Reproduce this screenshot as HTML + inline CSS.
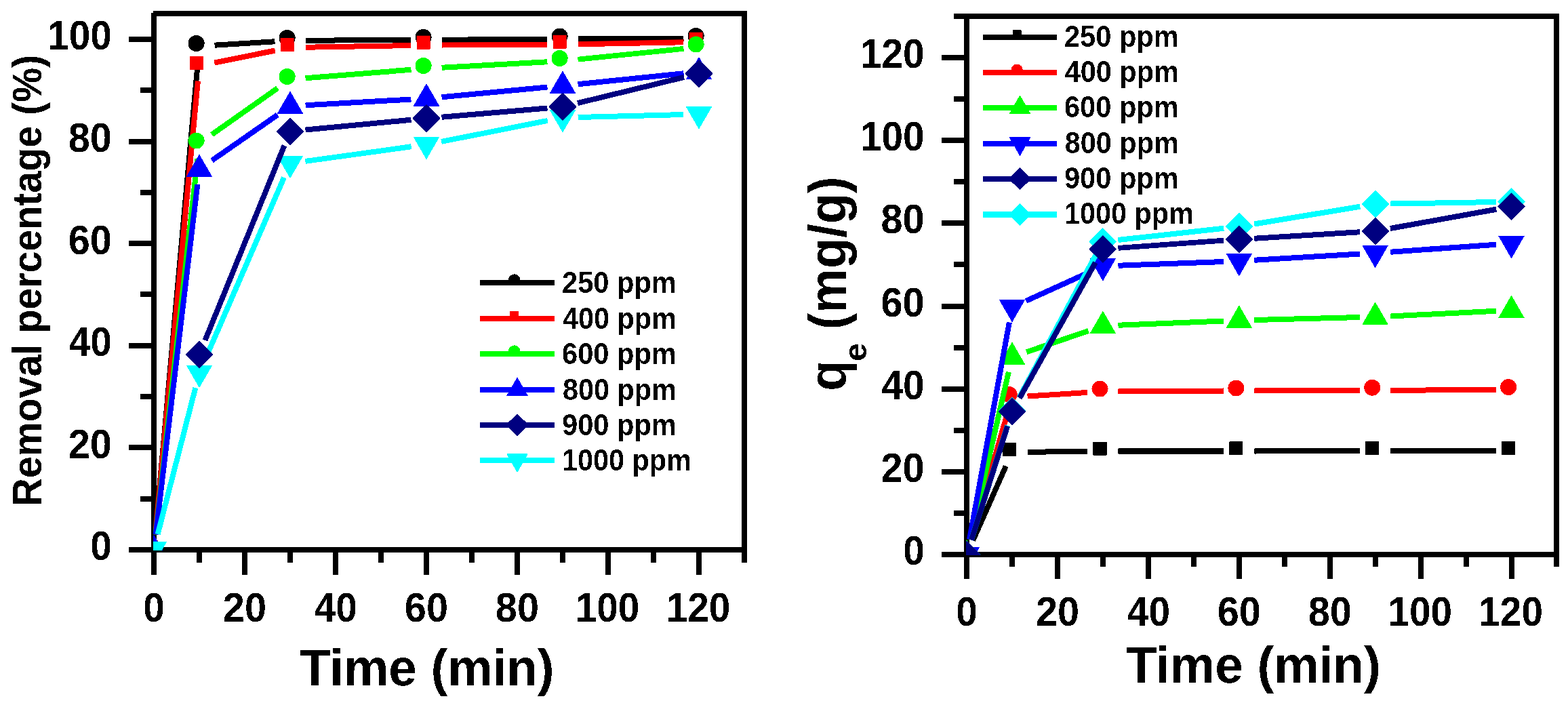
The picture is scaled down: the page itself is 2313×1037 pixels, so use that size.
<!DOCTYPE html><html><head><meta charset="utf-8"><title>Adsorption kinetics</title><style>html,body{margin:0;padding:0;background:#fff;overflow:hidden}svg{display:block}</style></head><body><svg width="2313" height="1037" viewBox="0 0 2313 1037" style="font-family:'Liberation Sans',sans-serif;font-weight:bold"><defs><clipPath id="clipL"><rect x="226" y="20" width="872" height="792"/></clipPath><clipPath id="clipR"><rect x="1425" y="24" width="872" height="795"/></clipPath><filter id="bin" x="0" y="0" width="2313" height="1037" filterUnits="userSpaceOnUse"><feComponentTransfer><feFuncA type="discrete" tableValues="0 1"/></feComponentTransfer></filter></defs><rect width="2313" height="1037" fill="#ffffff"/><g filter="url(#bin)"><rect x="223" y="19" width="8" height="796" fill="#000000"/><rect x="226" y="16" width="876" height="8" fill="#000000"/><rect x="1094" y="19" width="8" height="796" fill="#000000"/><rect x="190" y="807" width="912" height="8" fill="#000000"/><rect x="190" y="807" width="33" height="8" fill="#000000"/><rect x="207" y="732" width="16" height="8" fill="#000000"/><rect x="190" y="656" width="33" height="8" fill="#000000"/><rect x="207" y="581" width="16" height="8" fill="#000000"/><rect x="190" y="506" width="33" height="8" fill="#000000"/><rect x="207" y="430" width="16" height="8" fill="#000000"/><rect x="190" y="355" width="33" height="8" fill="#000000"/><rect x="207" y="280" width="16" height="8" fill="#000000"/><rect x="190" y="205" width="33" height="8" fill="#000000"/><rect x="207" y="129" width="16" height="8" fill="#000000"/><rect x="190" y="54" width="33" height="8" fill="#000000"/><rect x="223" y="815" width="8" height="33" fill="#000000"/><rect x="290" y="815" width="8" height="15" fill="#000000"/><rect x="357" y="815" width="8" height="33" fill="#000000"/><rect x="424" y="815" width="8" height="15" fill="#000000"/><rect x="491" y="815" width="8" height="33" fill="#000000"/><rect x="558" y="815" width="8" height="15" fill="#000000"/><rect x="625" y="815" width="8" height="33" fill="#000000"/><rect x="692" y="815" width="8" height="15" fill="#000000"/><rect x="759" y="815" width="8" height="33" fill="#000000"/><rect x="826" y="815" width="8" height="15" fill="#000000"/><rect x="893" y="815" width="8" height="33" fill="#000000"/><rect x="960" y="815" width="8" height="15" fill="#000000"/><rect x="1027" y="815" width="8" height="33" fill="#000000"/><rect x="1094" y="815" width="8" height="15" fill="#000000"/><rect x="1422" y="20" width="8" height="802" fill="#000000"/><rect x="1407" y="20" width="893" height="8" fill="#000000"/><rect x="2292" y="20" width="8" height="802" fill="#000000"/><rect x="1389" y="814" width="911" height="8" fill="#000000"/><rect x="1389" y="814" width="33" height="8" fill="#000000"/><rect x="1407" y="753" width="15" height="8" fill="#000000"/><rect x="1389" y="692" width="33" height="8" fill="#000000"/><rect x="1407" y="631" width="15" height="8" fill="#000000"/><rect x="1389" y="570" width="33" height="8" fill="#000000"/><rect x="1407" y="509" width="15" height="8" fill="#000000"/><rect x="1389" y="448" width="33" height="8" fill="#000000"/><rect x="1407" y="386" width="15" height="8" fill="#000000"/><rect x="1389" y="325" width="33" height="8" fill="#000000"/><rect x="1407" y="264" width="15" height="8" fill="#000000"/><rect x="1389" y="203" width="33" height="8" fill="#000000"/><rect x="1407" y="142" width="15" height="8" fill="#000000"/><rect x="1389" y="81" width="33" height="8" fill="#000000"/><rect x="1407" y="20" width="15" height="8" fill="#000000"/><rect x="1422" y="822" width="8" height="32" fill="#000000"/><rect x="1489" y="822" width="8" height="14" fill="#000000"/><rect x="1556" y="822" width="8" height="32" fill="#000000"/><rect x="1623" y="822" width="8" height="14" fill="#000000"/><rect x="1690" y="822" width="8" height="32" fill="#000000"/><rect x="1757" y="822" width="8" height="14" fill="#000000"/><rect x="1824" y="822" width="8" height="32" fill="#000000"/><rect x="1891" y="822" width="8" height="14" fill="#000000"/><rect x="1958" y="822" width="8" height="32" fill="#000000"/><rect x="2025" y="822" width="8" height="14" fill="#000000"/><rect x="2092" y="822" width="8" height="32" fill="#000000"/><rect x="2159" y="822" width="8" height="14" fill="#000000"/><rect x="2226" y="822" width="8" height="32" fill="#000000"/><rect x="2292" y="822" width="8" height="14" fill="#000000"/><g clip-path="url(#clipL)"><path d="M229.03,788.49L291.97,90.51M316.56,66.65L405.44,61.35M450.60,59.87L606.40,58.93M651.60,58.67L807.40,57.73M852.60,57.53L1008.40,57.07" fill="none" stroke="#000000" stroke-width="8" stroke-linecap="butt"/><circle cx="222.6" cy="807.0" r="12.0" fill="#000000"/><circle cx="289.6" cy="64.0" r="12.0" fill="#000000"/><circle cx="423.6" cy="56.0" r="12.0" fill="#000000"/><circle cx="624.6" cy="54.8" r="12.0" fill="#000000"/><circle cx="825.6" cy="53.6" r="12.0" fill="#000000"/><circle cx="1026.6" cy="53.0" r="12.0" fill="#000000"/><path d="M229.11,788.50L291.89,119.50M316.15,92.54L405.85,74.46M450.60,69.63L606.40,67.07M651.60,66.60L807.40,65.90M852.60,65.34L1008.40,62.16" fill="none" stroke="#ff0000" stroke-width="8" stroke-linecap="butt"/><rect x="212.6" y="797.0" width="20.0" height="20.0" fill="#ff0000"/><rect x="279.6" y="83.0" width="20.0" height="20.0" fill="#ff0000"/><rect x="413.6" y="56.0" width="20.0" height="20.0" fill="#ff0000"/><rect x="614.6" y="52.7" width="20.0" height="20.0" fill="#ff0000"/><rect x="815.6" y="51.8" width="20.0" height="20.0" fill="#ff0000"/><rect x="1016.6" y="47.7" width="20.0" height="20.0" fill="#ff0000"/><path d="M229.51,788.54L291.49,233.96M312.47,198.48L409.53,130.02M450.53,115.21L606.47,102.79M651.57,99.75L807.43,91.15M852.49,87.63L1008.51,71.87" fill="none" stroke="#00ff00" stroke-width="8" stroke-linecap="butt"/><circle cx="222.6" cy="807.0" r="12.0" fill="#00ff00"/><circle cx="289.6" cy="207.5" r="12.0" fill="#00ff00"/><circle cx="423.6" cy="113.0" r="12.0" fill="#00ff00"/><circle cx="624.6" cy="97.0" r="12.0" fill="#00ff00"/><circle cx="825.6" cy="85.9" r="12.0" fill="#00ff00"/><circle cx="1026.6" cy="65.6" r="12.0" fill="#00ff00"/><path d="M229.68,788.56L291.32,272.14M312.55,236.80L409.45,169.40M450.56,155.24L606.44,146.56M651.50,143.20L807.50,128.60M852.48,124.21L1008.52,108.29" fill="none" stroke="#0000ff" stroke-width="8" stroke-linecap="butt"/><polygon points="227.0,788.7 246.3,822.2 207.7,822.2" fill="#0000ff"/><polygon points="294.0,227.4 313.3,260.9 274.7,260.9" fill="#0000ff"/><polygon points="428.0,134.2 447.3,167.7 408.7,167.7" fill="#0000ff"/><polygon points="629.0,123.0 648.3,156.5 609.7,156.5" fill="#0000ff"/><polygon points="830.0,104.2 849.3,137.7 810.7,137.7" fill="#0000ff"/><polygon points="1031.0,83.7 1050.3,117.2 1011.7,117.2" fill="#0000ff"/><path d="M232.64,788.11L288.36,571.89M302.99,529.27L419.01,261.73M450.39,237.90L606.61,216.30M651.17,208.82L807.83,177.88M852.59,172.94L1008.41,169.06" fill="none" stroke="#00ffff" stroke-width="8" stroke-linecap="butt"/><polygon points="207.7,798.8 246.3,798.8 227.0,832.3" fill="#00ffff"/><polygon points="274.7,538.8 313.3,538.8 294.0,572.3" fill="#00ffff"/><polygon points="408.7,229.8 447.3,229.8 428.0,263.3" fill="#00ffff"/><polygon points="609.7,202.0 648.3,202.0 629.0,235.5" fill="#00ffff"/><polygon points="810.7,162.3 849.3,162.3 830.0,195.8" fill="#00ffff"/><polygon points="1011.7,157.3 1050.3,157.3 1031.0,190.8" fill="#00ffff"/><path d="M302.52,502.07L419.48,214.63M450.50,191.56L606.50,176.74M651.52,172.68L807.48,159.42M851.96,152.15L1009.04,113.85" fill="none" stroke="#000080" stroke-width="8" stroke-linecap="butt"/><polygon points="294.0,502.5 314.5,523.0 294.0,543.5 273.5,523.0" fill="#000080"/><polygon points="428.0,173.2 448.5,193.7 428.0,214.2 407.5,193.7" fill="#000080"/><polygon points="629.0,154.1 649.5,174.6 629.0,195.1 608.5,174.6" fill="#000080"/><polygon points="830.0,137.0 850.5,157.5 830.0,178.0 809.5,157.5" fill="#000080"/><polygon points="1031.0,88.0 1051.5,108.5 1031.0,129.0 1010.5,108.5" fill="#000080"/></g><g clip-path="url(#clipR)"><path d="M1435.16,797.34L1483.80,687.66M1515.56,666.76L1604.28,665.84M1649.48,665.58L1805.16,665.42M1850.36,665.39L2006.04,665.31M2051.24,665.30L2206.92,665.30" fill="none" stroke="#000000" stroke-width="8" stroke-linecap="butt"/><rect x="1411.6" y="804.0" width="20.0" height="20.0" fill="#000000"/><rect x="1478.6" y="653.0" width="20.0" height="20.0" fill="#000000"/><rect x="1612.5" y="651.6" width="20.0" height="20.0" fill="#000000"/><rect x="1813.4" y="651.4" width="20.0" height="20.0" fill="#000000"/><rect x="2014.2" y="651.3" width="20.0" height="20.0" fill="#000000"/><rect x="2215.1" y="651.3" width="20.0" height="20.0" fill="#000000"/><path d="M1432.27,796.29L1486.69,607.71M1515.51,584.55L1604.33,578.85M1649.48,577.29L1805.16,576.51M1850.36,576.33L2006.04,575.87M2051.24,575.70L2206.92,575.00" fill="none" stroke="#ff0000" stroke-width="8" stroke-linecap="butt"/><circle cx="1421.6" cy="814.0" r="12.0" fill="#ff0000"/><circle cx="1488.6" cy="582.0" r="12.0" fill="#ff0000"/><circle cx="1622.5" cy="573.4" r="12.0" fill="#ff0000"/><circle cx="1823.4" cy="572.4" r="12.0" fill="#ff0000"/><circle cx="2024.2" cy="571.8" r="12.0" fill="#ff0000"/><circle cx="2225.1" cy="570.9" r="12.0" fill="#ff0000"/><path d="M1431.06,795.97L1487.90,548.63M1514.34,519.27L1605.50,488.03M1649.46,479.78L1805.18,473.42M1850.35,471.94L2006.05,468.06M2051.21,466.40L2206.95,458.80" fill="none" stroke="#00ff00" stroke-width="8" stroke-linecap="butt"/><polygon points="1426.0,795.7 1445.3,829.2 1406.7,829.2" fill="#00ff00"/><polygon points="1493.0,504.3 1512.3,537.8 1473.7,537.8" fill="#00ff00"/><polygon points="1626.9,458.4 1646.2,491.9 1607.6,491.9" fill="#00ff00"/><polygon points="1827.8,450.2 1847.1,483.7 1808.5,483.7" fill="#00ff00"/><polygon points="2028.6,445.2 2047.9,478.7 2009.3,478.7" fill="#00ff00"/><polygon points="2229.5,435.4 2248.8,468.9 2210.2,468.9" fill="#00ff00"/><path d="M1430.08,795.77L1488.88,475.43M1513.54,443.87L1606.30,401.83M1649.46,391.67L1805.18,385.93M1850.32,383.76L2006.08,374.54M2051.19,371.64L2206.97,360.86" fill="none" stroke="#0000ff" stroke-width="8" stroke-linecap="butt"/><polygon points="1406.7,806.8 1445.3,806.8 1426.0,840.3" fill="#0000ff"/><polygon points="1473.7,442.0 1512.3,442.0 1493.0,475.5" fill="#0000ff"/><polygon points="1607.6,381.3 1646.2,381.3 1626.9,414.8" fill="#0000ff"/><polygon points="1808.5,373.9 1847.1,373.9 1827.8,407.4" fill="#0000ff"/><polygon points="2009.3,362.0 2047.9,362.0 2028.6,395.5" fill="#0000ff"/><polygon points="2210.2,348.1 2248.8,348.1 2229.5,381.6" fill="#0000ff"/><path d="M1432.81,796.45L1486.15,627.55M1503.64,586.09L1616.20,376.31M1649.34,353.92L1805.30,336.68M1850.06,330.51L2006.34,304.69M2051.24,300.61L2206.92,297.89" fill="none" stroke="#00ffff" stroke-width="8" stroke-linecap="butt"/><polygon points="1426.0,797.5 1446.5,818.0 1426.0,838.5 1405.5,818.0" fill="#00ffff"/><polygon points="1493.0,585.5 1513.5,606.0 1493.0,626.5 1472.5,606.0" fill="#00ffff"/><polygon points="1626.9,335.9 1647.4,356.4 1626.9,376.9 1606.4,356.4" fill="#00ffff"/><polygon points="1827.8,313.7 1848.3,334.2 1827.8,354.7 1807.3,334.2" fill="#00ffff"/><polygon points="2028.6,280.5 2049.1,301.0 2028.6,321.5 2008.1,301.0" fill="#00ffff"/><polygon points="2229.5,277.0 2250.0,297.5 2229.5,318.0 2209.0,297.5" fill="#00ffff"/><path d="M1432.84,796.46L1486.12,628.54M1503.99,587.27L1615.85,387.23M1649.42,365.87L1805.22,354.63M1850.32,351.65L2006.08,342.35M2050.88,336.99L2207.28,308.81" fill="none" stroke="#000080" stroke-width="8" stroke-linecap="butt"/><polygon points="1426.0,797.5 1446.5,818.0 1426.0,838.5 1405.5,818.0" fill="#000080"/><polygon points="1493.0,586.5 1513.5,607.0 1493.0,627.5 1472.5,607.0" fill="#000080"/><polygon points="1626.9,347.0 1647.4,367.5 1626.9,388.0 1606.4,367.5" fill="#000080"/><polygon points="1827.8,332.5 1848.3,353.0 1827.8,373.5 1807.3,353.0" fill="#000080"/><polygon points="2028.6,320.5 2049.1,341.0 2028.6,361.5 2008.1,341.0" fill="#000080"/><polygon points="2229.5,284.3 2250.0,304.8 2229.5,325.3 2209.0,304.8" fill="#000080"/></g><rect x="708" y="412.8" width="110" height="8.0" fill="#000000"/><circle cx="758.6" cy="412.8" r="8.6" fill="#000000"/><text x="829.01" y="431.95" font-size="44" textLength="168.80" lengthAdjust="spacingAndGlyphs">250 ppm</text><rect x="708" y="465.9" width="110" height="8.0" fill="#ff0000"/><rect x="752.1" y="459.4" width="13.0" height="13.0" fill="#ff0000"/><text x="829.96" y="485.05" font-size="44" textLength="167.83" lengthAdjust="spacingAndGlyphs">400 ppm</text><rect x="708" y="517.9" width="110" height="8.0" fill="#00ff00"/><circle cx="758.6" cy="517.9" r="8.6" fill="#00ff00"/><text x="829.01" y="537.05" font-size="44" textLength="168.80" lengthAdjust="spacingAndGlyphs">600 ppm</text><rect x="708" y="570.8" width="110" height="8.0" fill="#0000ff"/><polygon points="763.0,556.3 779.0,584.1 747.0,584.1" fill="#0000ff"/><text x="829.96" y="589.95" font-size="44" textLength="167.83" lengthAdjust="spacingAndGlyphs">800 ppm</text><rect x="708" y="622.8" width="110" height="8.0" fill="#000080"/><polygon points="763.0,610.4 780.1,626.8 763.0,643.2 745.9,626.8" fill="#000080"/><text x="829.01" y="641.95" font-size="44" textLength="168.80" lengthAdjust="spacingAndGlyphs">900 ppm</text><rect x="708" y="674.8" width="110" height="8.0" fill="#00ffff"/><polygon points="747.0,669.5 779.0,669.5 763.0,697.3" fill="#00ffff"/><text x="828.98" y="693.95" font-size="44" textLength="190.81" lengthAdjust="spacingAndGlyphs">1000 ppm</text><rect x="1450" y="51" width="109" height="8" fill="#000000"/><rect x="1493.6" y="44.5" width="13.0" height="13.0" fill="#000000"/><text x="1569.91" y="68.90" font-size="44" textLength="168.80" lengthAdjust="spacingAndGlyphs">250 ppm</text><rect x="1450" y="103" width="109" height="8" fill="#ff0000"/><circle cx="1500.1" cy="103.0" r="8.6" fill="#ff0000"/><text x="1570.86" y="120.90" font-size="44" textLength="167.83" lengthAdjust="spacingAndGlyphs">400 ppm</text><rect x="1450" y="154.8" width="109" height="8.0" fill="#00ff00"/><polygon points="1504.5,140.3 1520.5,168.1 1488.5,168.1" fill="#00ff00"/><text x="1569.91" y="172.70" font-size="44" textLength="168.80" lengthAdjust="spacingAndGlyphs">600 ppm</text><rect x="1450" y="207.7" width="109" height="8.0" fill="#0000ff"/><polygon points="1488.5,202.4 1520.5,202.4 1504.5,230.2" fill="#0000ff"/><text x="1570.86" y="225.60" font-size="44" textLength="167.83" lengthAdjust="spacingAndGlyphs">800 ppm</text><rect x="1450" y="259.7" width="109" height="8.0" fill="#000080"/><polygon points="1504.5,247.3 1521.6,263.7 1504.5,280.1 1487.4,263.7" fill="#000080"/><text x="1569.91" y="277.60" font-size="44" textLength="168.80" lengthAdjust="spacingAndGlyphs">900 ppm</text><rect x="1450" y="312.5" width="109" height="8.0" fill="#00ffff"/><polygon points="1504.5,300.1 1521.6,316.5 1504.5,332.9 1487.4,316.5" fill="#00ffff"/><text x="1569.88" y="330.40" font-size="44" textLength="190.81" lengthAdjust="spacingAndGlyphs">1000 ppm</text><text x="133.34" y="826.30" font-size="61" textLength="31.58" lengthAdjust="spacingAndGlyphs">0</text><text x="100.71" y="675.70" font-size="61" textLength="64.18" lengthAdjust="spacingAndGlyphs">20</text><text x="101.67" y="525.10" font-size="61" textLength="63.18" lengthAdjust="spacingAndGlyphs">40</text><text x="100.71" y="374.50" font-size="61" textLength="64.18" lengthAdjust="spacingAndGlyphs">60</text><text x="100.71" y="223.90" font-size="61" textLength="64.18" lengthAdjust="spacingAndGlyphs">80</text><text x="70.18" y="73.30" font-size="61" textLength="94.59" lengthAdjust="spacingAndGlyphs">100</text><text x="211.14" y="917.20" font-size="61" textLength="31.58" lengthAdjust="spacingAndGlyphs">0</text><text x="328.81" y="917.20" font-size="61" textLength="64.18" lengthAdjust="spacingAndGlyphs">20</text><text x="463.77" y="917.20" font-size="61" textLength="63.18" lengthAdjust="spacingAndGlyphs">40</text><text x="596.81" y="917.20" font-size="61" textLength="64.18" lengthAdjust="spacingAndGlyphs">60</text><text x="730.81" y="917.20" font-size="61" textLength="64.18" lengthAdjust="spacingAndGlyphs">80</text><text x="848.63" y="917.20" font-size="61" textLength="94.59" lengthAdjust="spacingAndGlyphs">100</text><text x="982.63" y="917.20" font-size="61" textLength="94.59" lengthAdjust="spacingAndGlyphs">120</text><text x="1332.14" y="833.00" font-size="61" textLength="31.58" lengthAdjust="spacingAndGlyphs">0</text><text x="1299.51" y="710.84" font-size="61" textLength="64.18" lengthAdjust="spacingAndGlyphs">20</text><text x="1300.47" y="588.68" font-size="61" textLength="63.18" lengthAdjust="spacingAndGlyphs">40</text><text x="1299.51" y="466.52" font-size="61" textLength="64.18" lengthAdjust="spacingAndGlyphs">60</text><text x="1299.51" y="344.36" font-size="61" textLength="64.18" lengthAdjust="spacingAndGlyphs">80</text><text x="1268.98" y="222.20" font-size="61" textLength="94.59" lengthAdjust="spacingAndGlyphs">100</text><text x="1268.98" y="100.04" font-size="61" textLength="94.59" lengthAdjust="spacingAndGlyphs">120</text><text x="1410.34" y="923.20" font-size="61" textLength="31.58" lengthAdjust="spacingAndGlyphs">0</text><text x="1527.93" y="923.20" font-size="61" textLength="64.18" lengthAdjust="spacingAndGlyphs">20</text><text x="1662.81" y="923.20" font-size="61" textLength="63.18" lengthAdjust="spacingAndGlyphs">40</text><text x="1795.77" y="923.20" font-size="61" textLength="64.18" lengthAdjust="spacingAndGlyphs">60</text><text x="1929.69" y="923.20" font-size="61" textLength="64.18" lengthAdjust="spacingAndGlyphs">80</text><text x="2047.43" y="923.20" font-size="61" textLength="94.59" lengthAdjust="spacingAndGlyphs">100</text><text x="2181.35" y="923.20" font-size="61" textLength="94.59" lengthAdjust="spacingAndGlyphs">120</text><text x="442.02" y="1010.90" font-size="76" textLength="375.57" lengthAdjust="spacingAndGlyphs">Time (min)</text><text x="1660.82" y="1006.80" font-size="76" textLength="375.97" lengthAdjust="spacingAndGlyphs">Time (min)</text><g transform="translate(61,742.8) rotate(-90)"><text x="-3.76" y="0.00" font-size="61" textLength="665.93" lengthAdjust="spacingAndGlyphs">Removal percentage (%)</text></g><g transform="translate(1248,573.9) rotate(-90)"><text y="0" font-size="77"><tspan x="-2.91" textLength="45.58" lengthAdjust="spacingAndGlyphs">q</tspan><tspan x="40.79" dy="29.5" font-size="46" textLength="26.97" lengthAdjust="spacingAndGlyphs">e</tspan><tspan x="67.09" dy="-29.5" textLength="246.47" lengthAdjust="spacingAndGlyphs"> (mg/g)</tspan></text></g></g></svg></body></html>
